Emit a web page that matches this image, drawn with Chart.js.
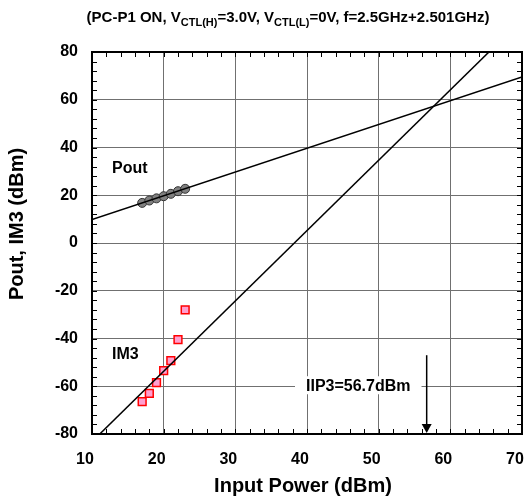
<!DOCTYPE html>
<html>
<head>
<meta charset="utf-8">
<script src="https://cdn.jsdelivr.net/npm/chart.js@4/dist/chart.umd.min.js"></script>
<style>
  body { margin: 0; background: #fff; }
</style>
</head>
<body>
<canvas id="iip3-chart" width="532" height="499"></canvas>
<script>
// measured points (input power in dBm)
const inputPower = [17, 18, 19, 20, 21, 22, 23];
const poutValues = [16.8, 17.8, 18.7, 19.6, 20.6, 21.7, 22.7];
const im3Values = [-66.4, -63, -58.5, -53.5, -49.3, -40.5, -28];

// fitted lines (slope ~1 and slope ~3)
const fitX = [10, 70];
const poutFit = [9.8, 69.5];
const im3Fit = [-83.2, 93.6];

const iip3 = 56.7;
const xTicks = [10, 20, 30, 40, 50, 60, 70];
const yTicks = [-80, -60, -40, -20, 0, 20, 40, 60, 80];

const FONT = "'Liberation Sans', Arial, sans-serif";

const toPoints = (xs, ys) => xs.map((v, i) => ({ x: v, y: ys[i] }));

// border, inner minor ticks, labels, arrow, title
const decor = {
  id: "decor",
  afterDraw(chart) {
    const { ctx, chartArea: a, scales } = chart;
    const x = scales.x, y = scales.y;
    ctx.save();

    // minor ticks pointing inward
    ctx.strokeStyle = "#000";
    ctx.lineWidth = 1;
    ctx.beginPath();
    for (let v = 12; v < 70; v += 2) {
      const px = Math.round(x.getPixelForValue(v)) + 0.5;
      ctx.moveTo(px, a.bottom); ctx.lineTo(px, a.bottom - 5);
      ctx.moveTo(px, a.top); ctx.lineTo(px, a.top + 5);
    }
    for (let v = -76; v < 80; v += 4) {
      const py = Math.round(y.getPixelForValue(v)) + 0.5;
      ctx.moveTo(a.left, py); ctx.lineTo(a.left + 5, py);
      ctx.moveTo(a.right, py); ctx.lineTo(a.right - 5, py);
    }
    ctx.stroke();

    // plot frame
    ctx.lineWidth = 2;
    ctx.strokeRect(a.left, a.top, a.right - a.left, a.bottom - a.top);

    // series labels
    ctx.fillStyle = "#000";
    ctx.font = "bold 16px " + FONT;
    ctx.textBaseline = "alphabetic";
    ctx.textAlign = "left";
    ctx.fillText("Pout", 112, 173);
    ctx.fillText("IM3", 112, 359);

    // IIP3 label with white box over the grid
    const lbl = "IIP3=" + iip3 + "dBm";
    const ly = y.getPixelForValue(-60);
    const lw = ctx.measureText(lbl).width;
    const lx = 306;
    ctx.fillStyle = "#fff";
    ctx.fillRect(lx - 11, ly - 10, lw + 22, 18);
    ctx.fillStyle = "#000";
    ctx.fillText(lbl, lx, ly + 5);

    // arrow down to IIP3 on the x axis
    const ax = x.getPixelForValue(iip3);
    ctx.lineWidth = 1.5;
    ctx.beginPath();
    ctx.moveTo(ax, y.getPixelForValue(-47));
    ctx.lineTo(ax, a.bottom - 8);
    ctx.stroke();
    ctx.beginPath();
    ctx.moveTo(ax - 5, a.bottom - 10);
    ctx.lineTo(ax + 5, a.bottom - 10);
    ctx.lineTo(ax, a.bottom - 1);
    ctx.closePath();
    ctx.fill();

    // axis titles
    ctx.font = "bold 20px " + FONT;
    ctx.textAlign = "center";
    ctx.textBaseline = "middle";
    ctx.fillText("Input Power (dBm)", 303, 486);
    ctx.save();
    ctx.translate(17, 224);
    ctx.rotate(-Math.PI / 2);
    ctx.fillText("Pout, IM3 (dBm)", 0, 0);
    ctx.restore();

    // title with subscripts
    const parts = [
      ["(PC-P1 ON, V", false], ["CTL(H)", true], ["=3.0V, V", false],
      ["CTL(L)", true], ["=0V, f=2.5GHz+2.501GHz)", false],
    ];
    const mainF = "bold 15px " + FONT, subF = "bold 11px " + FONT;
    let total = 0;
    parts.forEach(([t, s]) => { ctx.font = s ? subF : mainF; total += ctx.measureText(t).width; });
    let tx = 288 - total / 2;
    ctx.textAlign = "left";
    ctx.textBaseline = "alphabetic";
    parts.forEach(([t, s]) => {
      ctx.font = s ? subF : mainF;
      ctx.fillText(t, tx, s ? 26 : 22);
      tx += ctx.measureText(t).width;
    });

    ctx.restore();
  },
};

const ctx = document.getElementById("iip3-chart").getContext("2d");

const iip3Chart = new Chart(ctx, {
  type: "scatter",
  data: {
    datasets: [
      {
        label: "Pout fit",
        data: toPoints(fitX, poutFit),
        showLine: true,
        borderColor: "#000",
        borderWidth: 1.5,
        pointRadius: 0,
      },
      {
        label: "IM3 fit",
        data: toPoints(fitX, im3Fit),
        showLine: true,
        borderColor: "#000",
        borderWidth: 1.5,
        pointRadius: 0,
      },
      {
        label: "Pout",
        data: toPoints(inputPower, poutValues),
        pointStyle: "circle",
        pointRadius: 4.5,
        backgroundColor: "#808080",
        borderColor: "#333",
        borderWidth: 1,
      },
      {
        label: "IM3",
        data: toPoints(inputPower, im3Values),
        pointStyle: "rect",
        pointRadius: 5.5,
        backgroundColor: "#ff9fcf",
        borderColor: "#ff0000",
        borderWidth: 1.5,
      },
    ],
  },
  options: {
    responsive: false,
    animation: false,
    layout: { padding: { left: 0, right: 10, top: 52, bottom: 0 } },
    plugins: {
      legend: { display: false },
      tooltip: { enabled: false },
    },
    scales: {
      x: {
        type: "linear",
        min: 10,
        max: 70,
        afterBuildTicks: (s) => { s.ticks = xTicks.map((v) => ({ value: v })); },
        afterFit: (s) => { s.height = 65; s.paddingLeft = 0; s.paddingRight = 0; },
        ticks: {
          color: "#000",
          font: { family: FONT, size: 16, weight: "bold" },
          padding: 16,
          labelOffset: -7,
          maxRotation: 0,
        },
        grid: { color: "#707070", lineWidth: 1, drawTicks: false },
        border: { display: false },
      },
      y: {
        type: "linear",
        min: -80,
        max: 80,
        afterBuildTicks: (s) => { s.ticks = yTicks.map((v) => ({ value: v })); },
        afterFit: (s) => { s.width = 92; s.paddingTop = 0; s.paddingBottom = 0; },
        ticks: {
          color: "#000",
          font: { family: FONT, size: 16, weight: "bold" },
          padding: 14,
        },
        grid: { color: "#707070", lineWidth: 1, drawTicks: false },
        border: { display: false },
      },
    },
  },
  plugins: [decor],
});
</script>
</body>
</html>
